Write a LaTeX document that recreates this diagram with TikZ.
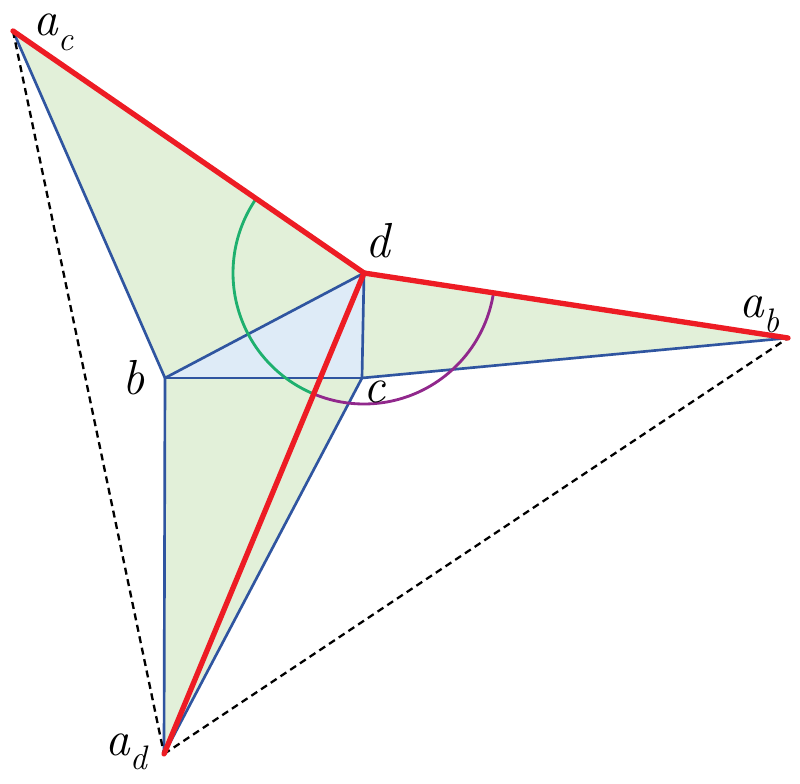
\documentclass[tikz,border=0pt]{standalone}
\usetikzlibrary{calc}
\definecolor{fillgreen}{RGB}{226,240,217}
\definecolor{fillblue}{RGB}{222,235,247}
\definecolor{edgeblue}{RGB}{47,85,160}
\definecolor{edgered}{RGB}{237,28,36}
\definecolor{arcgreen}{RGB}{30,176,110}
\definecolor{arcpurple}{RGB}{145,40,140}
\tikzset{
  blueedge/.style={draw=edgeblue,line width=0.8mm},
  rededge/.style={draw=edgered,line width=1.6mm,line cap=round},
  dashedge/.style={draw=black,line width=0.7mm,dash pattern=on 2.1mm off 1.4mm},
  anglearc/.style={line width=0.85mm},
  lbl/.style={anchor=base west,inner sep=0pt,font=\fontsize{42}{42}\selectfont\itshape},
}
\newcommand{\sbs}[1]{\raisebox{-0.3em}{\fontsize{29}{29}\selectfont\itshape #1}}
\begin{document}
\begin{tikzpicture}[x=0.3mm,y=-0.3mm]
\useasboundingbox (0,0) rectangle (800,784);
\coordinate (ac) at (13,31);
\coordinate (d) at (364,273);
\coordinate (ab) at (788,338);
\coordinate (b) at (165,378);
\coordinate (c) at (362,378);
\coordinate (ad) at (164,754);
% fills
\fill[fillgreen] (ac) -- (d) -- (b) -- cycle;
\fill[fillgreen] (d) -- (ab) -- (c) -- cycle;
\fill[fillgreen] (b) -- (c) -- (ad) -- cycle;
\fill[fillblue] (b) -- (c) -- (d) -- cycle;
% blue edges
\draw[blueedge] (ac) -- (b);
\draw[blueedge] (b) -- (d);
\draw[blueedge] (b) -- (c);
\draw[blueedge] (c) -- (d);
\draw[blueedge] (c) -- (ab);
\draw[blueedge] (b) -- (ad);
\draw[blueedge] (c) -- (ad);
% dashed
\draw[dashedge] (ac) -- (ad);
\draw[dashedge] (ad) -- (ab);
% arcs
\draw[anglearc,arcgreen] ($(d)+(214.6:131)$) arc[start angle=214.6,end angle=112.6,radius=131];
\draw[anglearc,arcpurple] ($(d)+(8.7:131)$) arc[start angle=8.7,end angle=112.6,radius=131];
% red edges
\draw[rededge] (ac) -- (d);
\draw[rededge] (d) -- (ab);
\draw[rededge] (d) -- (ad);
% labels
\node[lbl] (lac) at (33,36) {a\sbs{c}};
\node[lbl] (ld) at (365,258) {d};
\node[lbl] (lb) at (122,395) {b};
\node[lbl] (lc) at (363,402) {c};
\node[lbl] (lab) at (739,318) {a\sbs{b}};
\node[lbl] (lad) at (105,755) {a\sbs{d}};
\end{tikzpicture}
\end{document}
